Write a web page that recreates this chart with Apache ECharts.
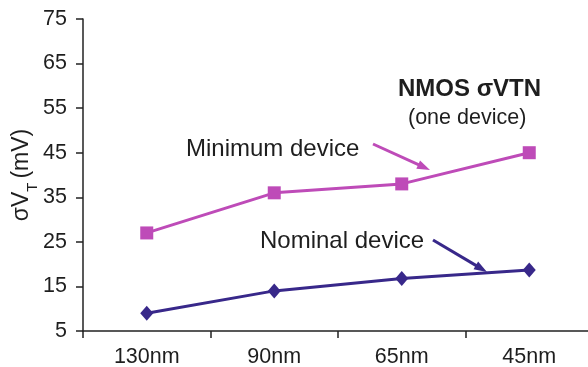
<!DOCTYPE html>
<html>
<head>
<meta charset="utf-8">
<script src="https://cdn.jsdelivr.net/npm/echarts@6/dist/echarts.min.js"></script>
<style>
html,body{margin:0;padding:0;background:#fff;}
#chart{width:588px;height:367px;}
</style>
</head>
<body>
<div id="chart"></div>
<script>
var categories = ['130nm', '90nm', '65nm', '45nm'];
var minimumDevice = [27, 36, 38, 45];
var nominalDevice = [9, 14, 16.8, 18.7];
var yTicks = [5, 15, 25, 35, 45, 55, 65, 75];

var FONT = '"Liberation Sans", Arial, Helvetica, sans-serif';
var MAG = '#BE4BB8';
var BLUE = '#38288A';
var TXT = '#1e1e1e';

var chart = echarts.init(document.getElementById('chart'));

function arrow(x1, y1, x2, y2, color) {
  var dx = x2 - x1, dy = y2 - y1, L = Math.sqrt(dx * dx + dy * dy);
  var ux = dx / L, uy = dy / L, hl = 13, hw = 4.5;
  var bx = x2 - ux * hl, by = y2 - uy * hl;
  return [
    {type: 'line', shape: {x1: x1, y1: y1, x2: bx + ux * 2, y2: by + uy * 2}, style: {stroke: color, lineWidth: 3}},
    {type: 'polygon', shape: {points: [[x2, y2], [bx - uy * hw, by + ux * hw], [bx + uy * hw, by - ux * hw]]}, style: {fill: color}}
  ];
}

var graphics = [
  {type: 'text', left: 398, top: 77, style: {text: 'NMOS σVTN', font: 'bold 24px ' + FONT, fill: TXT}},
  {type: 'text', left: 408, top: 107, style: {text: '(one device)', font: '21.5px ' + FONT, fill: TXT}},
  {type: 'text', left: 186, top: 137, style: {text: 'Minimum device', font: '24px ' + FONT, fill: TXT}},
  {type: 'text', left: 260, top: 229, style: {text: 'Nominal device', font: '24px ' + FONT, fill: TXT}}
].concat(arrow(373, 144, 430, 170, MAG)).concat(arrow(433, 240, 487, 272, BLUE));

var option = {
  animation: false,
  backgroundColor: '#fff',
  grid: {left: 83, top: 19, width: 510, height: 312, containLabel: false, outerBoundsMode: 'none'},
  xAxis: {
    type: 'category',
    data: categories,
    boundaryGap: true,
    axisLine: {lineStyle: {color: '#222', width: 1.5}},
    axisTick: {show: true, length: 7, inside: false, lineStyle: {color: '#222', width: 1.5}},
    axisLabel: {color: TXT, fontSize: 21.5, fontFamily: FONT, margin: 15},
    splitLine: {show: false}
  },
  yAxis: {
    type: 'value',
    min: yTicks[0],
    max: yTicks[yTicks.length - 1],
    interval: 10,
    axisLine: {show: true, lineStyle: {color: '#222', width: 1.5}},
    axisTick: {show: true, length: 7, inside: false, lineStyle: {color: '#222', width: 1.5}},
    axisLabel: {color: TXT, fontSize: 21.5, fontFamily: FONT, margin: 16},
    splitLine: {show: false},
    name: '{a|σV}{b|T}{a|(mV)}',
    nameLocation: 'middle',
    nameGap: 50,
    nameMoveOverlap: false,
    nameRotate: 90,
    nameTextStyle: {
      rich: {
        a: {fontSize: 23, fontFamily: FONT, color: TXT},
        b: {fontSize: 15, fontFamily: FONT, color: TXT, verticalAlign: 'bottom', padding: [0, 4, -7, 0]}
      }
    }
  },
  series: [
    {
      name: 'Minimum device',
      type: 'line',
      data: minimumDevice,
      symbol: 'rect',
      symbolSize: 13,
      lineStyle: {color: MAG, width: 3},
      itemStyle: {color: MAG}
    },
    {
      name: 'Nominal device',
      type: 'line',
      data: nominalDevice,
      symbol: 'diamond',
      symbolSize: [13, 15],
      lineStyle: {color: BLUE, width: 3},
      itemStyle: {color: BLUE}
    }
  ],
  graphic: graphics
};
chart.setOption(option);
</script>
</body>
</html>
